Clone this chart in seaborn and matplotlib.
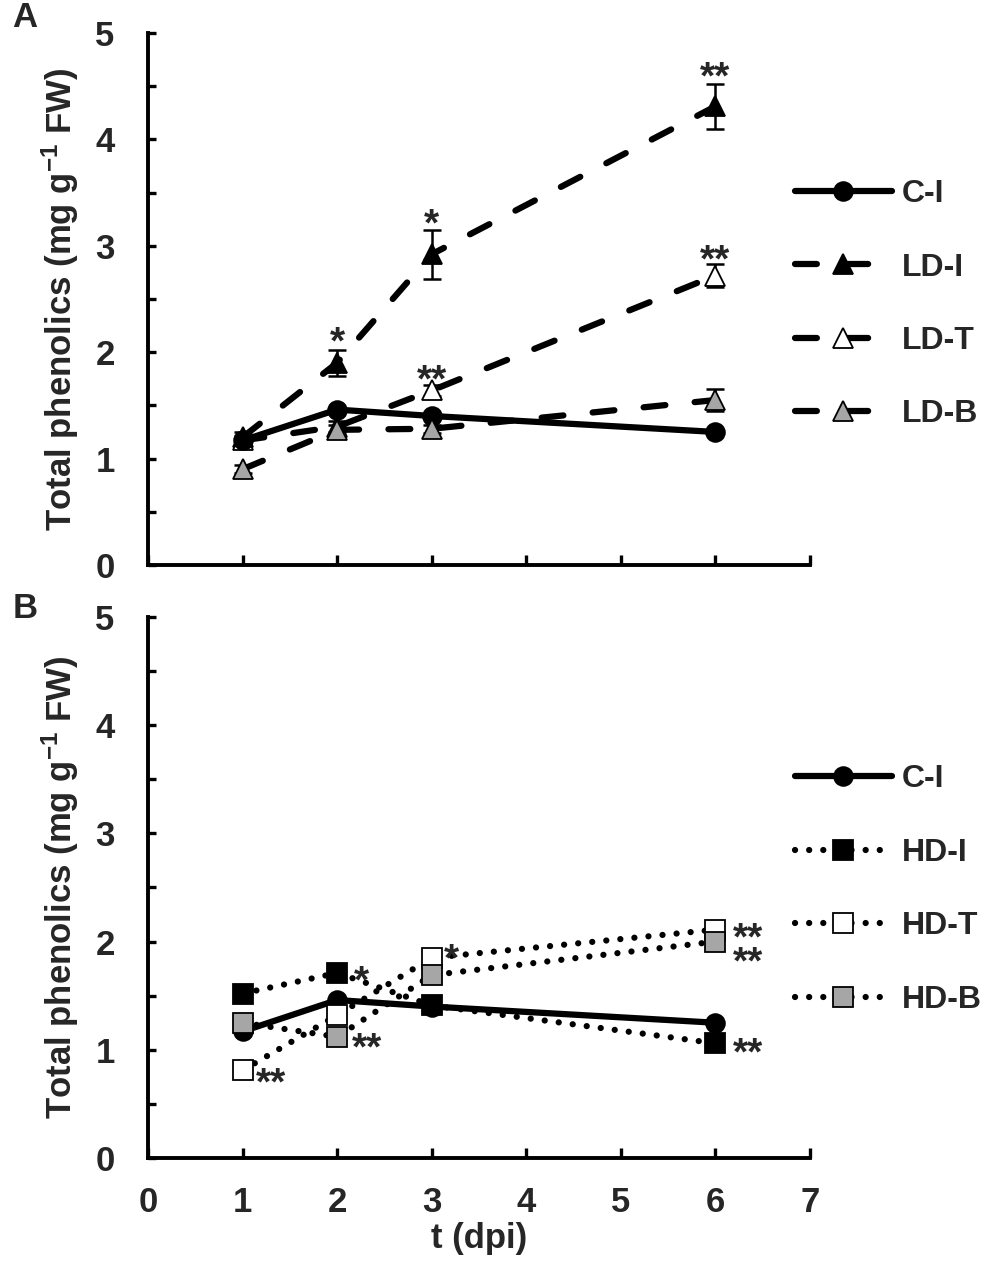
import numpy as np
import pandas as pd
import seaborn as sns
import matplotlib.pyplot as plt

sns.set_theme(style="ticks")
plt.rcParams['font.family'] = ['Liberation Sans', 'DejaVu Sans']
plt.rcParams['font.weight'] = 'bold'
plt.rcParams['mathtext.default'] = 'regular'

# data (mg g-1 FW)
days = [1, 2, 3, 6]

ci = [1.17, 1.46, 1.40, 1.25]

ld_i = [1.20, 1.90, 2.92, 4.31]
ld_i_err = [0.05, 0.12, 0.23, 0.21]
ld_t = [1.17, 1.30, 1.64, 2.72]
ld_t_err = [0.04, 0.05, 0.05, 0.11]
ld_b = [0.90, 1.27, 1.28, 1.55]
ld_b_err = [0.04, 0.05, 0.04, 0.10]

hd_i = [1.52, 1.71, 1.41, 1.06]
hd_t = [0.81, 1.32, 1.85, 2.11]
hd_b = [1.25, 1.12, 1.69, 2.00]

# significance marks: x, y (top of the stars), text, alignment
stars_a = [(6, 4.74, '**', 'center'), (3, 3.36, '*', 'center'), (2, 2.25, '*', 'center'),
           (6, 3.02, '**', 'center'), (3, 1.89, '**', 'center')]
stars_b = [(2.18, 1.79, '*', 'left'), (2.16, 1.17, '**', 'left'), (3.13, 1.99, '*', 'left'),
           (6.19, 2.19, '**\n**', 'left'), (6.18, 1.12, '**', 'left'),
           (1.14, 0.85, '**', 'left')]

GREY = '#a6a6a6'
LW = 4.5
solid = dict(linestyle='-', solid_capstyle='round')
dashed = dict(linestyle=(0, (3.5, 4.7)), dash_capstyle='round')
dotted = dict(linestyle=(0, (0.01, 2.25)), dash_capstyle='round')

fig = plt.figure(figsize=(10, 12.71), dpi=100)
axA = fig.add_axes([0.148, 0.5555, 0.662, 0.4186])
axB = fig.add_axes([0.148, 0.0889, 0.662, 0.4257])


def draw(ax, name, vals, marker, face, ms, style, err=None):
    df = pd.DataFrame({'t': days, 'v': vals})
    if err is not None:
        ax.errorbar(days, vals, yerr=err, fmt='none', ecolor='black',
                    elinewidth=1.8, capsize=6.5, capthick=1.8, zorder=1.5)
    sns.lineplot(data=df, x='t', y='v', ax=ax, color='black', lw=LW,
                 marker=marker, ms=ms, mfc=face, mec='black', mew=1.3,
                 errorbar=None, **style)
    line = ax.get_lines()[-1]
    line.set_label(name)
    return line


# panel A
h_ldi = draw(axA, 'LD-I', ld_i, '^', 'black', 15, dashed, ld_i_err)
h_ldt = draw(axA, 'LD-T', ld_t, '^', 'white', 15, dashed, ld_t_err)
h_ci = draw(axA, 'C-I', ci, 'o', 'black', 13.5, solid)
h_ldb = draw(axA, 'LD-B', ld_b, '^', GREY, 15, dashed, ld_b_err)
handlesA = [h_ci, h_ldi, h_ldt, h_ldb]

# panel B
h_ci2 = draw(axB, 'C-I', ci, 'o', 'black', 13.5, solid)
h_hdi = draw(axB, 'HD-I', hd_i, 's', 'black', 14, dotted)
h_hdt = draw(axB, 'HD-T', hd_t, 's', 'white', 14, dotted)
h_hdb = draw(axB, 'HD-B', hd_b, 's', GREY, 14, dotted)
handlesB = [h_ci2, h_hdi, h_hdt, h_hdb]

for ax, stars in [(axA, stars_a), (axB, stars_b)]:
    for x, y, s, ha in stars:
        ax.text(x, y, s, ha=ha, va='top', fontsize=28, fontweight='bold',
                linespacing=0.6)

for ax, handles, yc in [(axA, handlesA, 0.49), (axB, handlesB, 0.496)]:
    ax.set_xlim(0, 7)
    ax.set_ylim(0, 5)
    ax.set_xticks(range(0, 8))
    ax.set_yticks(range(0, 6))
    ax.set_yticks(np.arange(0.5, 5, 1.0), minor=True)
    ax.tick_params(axis='both', which='both', direction='in', width=2.4,
                   labelsize=25, color='black')
    ax.tick_params(axis='y', which='both', length=6, pad=24)
    ax.tick_params(axis='x', which='both', length=7, pad=20)
    for lab in ax.get_xticklabels() + ax.get_yticklabels():
        lab.set_fontweight('bold')
    sns.despine(ax=ax)
    for sp in ['left', 'bottom']:
        ax.spines[sp].set_linewidth(2.8)
        ax.spines[sp].set_color('black')
    ax.set_ylabel('Total phenolics (mg g$^{-1}$ FW)', fontsize=25,
                  fontweight='bold', labelpad=10)
    ax.set_xlabel('')
    leg = ax.legend(handles=handles, loc='center left', bbox_to_anchor=(0.977, yc),
                    frameon=False, fontsize=23, handlelength=3.05, handletextpad=0.3,
                    labelspacing=1.36, borderaxespad=0, borderpad=0, numpoints=1)
    for t in leg.get_texts():
        t.set_fontweight('bold')

axA.tick_params(axis='x', labelbottom=False)
axB.set_xlabel('t (dpi)', fontsize=25, fontweight='bold', labelpad=2)

fig.text(0.025, 0.986, 'A', fontsize=25, fontweight='bold', ha='center', va='center')
fig.text(0.025, 0.521, 'B', fontsize=25, fontweight='bold', ha='center', va='center')

fig.savefig('out.png', dpi=100)
